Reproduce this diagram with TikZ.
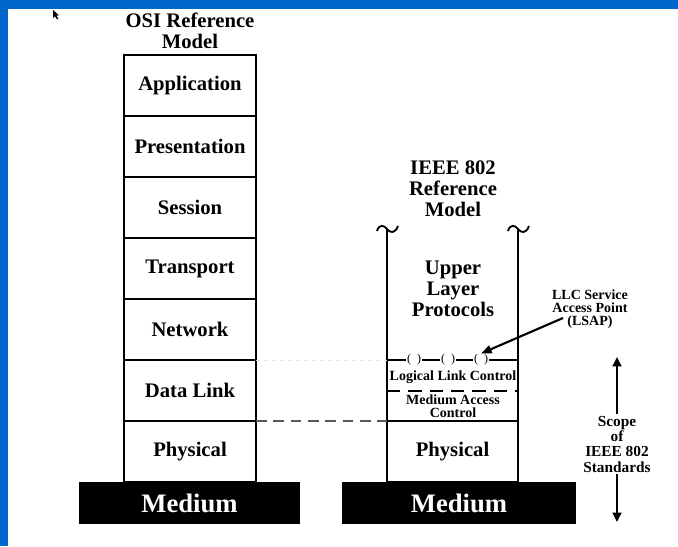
\documentclass[tikz,border=0pt]{standalone}
\usepackage{fontspec}
\setmainfont{Liberation Serif}
\usetikzlibrary{arrows.meta}
\definecolor{slideblue}{RGB}{0,102,204}

\begin{document}
\begin{tikzpicture}[x=0.75pt, y=-0.75pt]
\tikzstyle{every node} = [font=\bfseries]
\tikzstyle{layer} = [draw, line width=1.3pt, outer sep=0pt, minimum width=99pt, minimum height=45.75pt, inner sep=0pt, font=\fontsize{15.5}{15.75}\selectfont\bfseries]
\tikzstyle{medium} = [fill=black, text=white, minimum height=31.5pt, inner sep=0pt, font=\fontsize{20}{20}\selectfont\bfseries]
\tikzstyle{title} = [align=center, font=\fontsize{15.5}{15.75}\selectfont\bfseries]
\tikzstyle{small} = [align=center, inner sep=1pt, font=\fontsize{10.5}{9.75}\selectfont\bfseries]
\tikzstyle{scopetxt} = [align=center, inner sep=1pt, font=\fontsize{11.5}{11.5}\selectfont\bfseries]
\tikzstyle{sap} = [fill=white, inner sep=0.6pt, font=\fontsize{9}{9}\selectfont]
\tikzstyle{wall} = [line width=1.4pt]
\tikzstyle{arw} = [line width=1.6pt, -{Triangle[length=8pt,width=6pt]}]
\tikzstyle{sarw} = [line width=1.9pt, -{Triangle[length=7pt,width=6.5pt]}]

\useasboundingbox (0,0) rectangle (678,546);
\fill[white] (0,0) rectangle (678,546);
\fill[slideblue] (0,0) rectangle (678,9);
\fill[slideblue] (0,0) rectangle (8,546);
% mouse pointer
\fill (53,10) -- (53,18) -- (55,16.2) -- (57,19.5) -- (58.3,18.8) -- (56.4,15.6) -- (59,15.4) -- cycle;

% OSI stack
\node[title] (osi) at (190,31) {OSI Reference\\Model};
\node[layer] (app) at (190,85.5) {Application};
\node[layer] (pres) at (190,146.5) {Presentation};
\node[layer] (sess) at (190,207.5) {Session};
\node[layer] (trans) at (190,268.5) {Transport};
\node[layer] (net) at (190,329.5) {Network};
\node[layer] (dl) at (190,390.5) {Data Link};
\node[layer] (phy) at (190,451.5) {Physical};
\node[medium, minimum width=165.75pt] (med) at (189.5,503) {Medium};

% IEEE 802 stack
\node[title] (ieee) at (453,189) {IEEE 802\\Reference\\Model};
\node[layer, minimum width=98.25pt] (phy2) at (452.5,451.5) {Physical};
\node[medium, minimum width=175.5pt] (med2) at (459,503) {Medium};
\coordinate (wl) at (387,229);
\coordinate (wr) at (518,229);
\draw[wall] (wl) -- (phy2.north west);
\draw[wall] (wr) -- (phy2.north east);
\draw[wall] ([shift={(-10,2)}]wl) .. controls ([shift={(-8,-5)}]wl) and ([shift={(-3,-4)}]wl) .. (wl)
  .. controls ([shift={(3,4)}]wl) and ([shift={(8,5)}]wl) .. ([shift={(11,-3)}]wl);
\draw[wall] ([shift={(-10,2)}]wr) .. controls ([shift={(-8,-5)}]wr) and ([shift={(-3,-4)}]wr) .. (wr)
  .. controls ([shift={(3,4)}]wr) and ([shift={(8,5)}]wr) .. ([shift={(11,-3)}]wr);
\node[title] (ulp) at (453,289) {Upper\\Layer\\Protocols};

\coordinate (llcl) at (387,360);
\coordinate (llcr) at (518,360);
\draw[line width=1pt] (llcl) -- (llcr);
\node[sap] (sap1) at (414,360) {(\,\,\,)};
\node[sap] (sap2) at (448,360) {(\,\,\,)};
\node[sap] (sap3) at (481,360) {(\,\,\,)};
\node[small] (llc) at (453,377) {Logical Link Control};
\coordinate (macl) at (387,391);
\coordinate (macr) at (518,391);
\draw[line width=1.4pt, dash pattern=on 10pt off 6pt] (macl) -- (macr);
\node[small] (mac) at (453,406) {Medium Access\\Control};

% links between the two stacks
\draw[gray!20, dashed] (net.south east) -- (llcl);
\draw[gray!70!black, line width=1pt, dash pattern=on 8pt off 5pt] (dl.south east) -- (phy2.north west);

% LSAP label
\node[small] (lsap) at (590,309) {LLC Service\\Access Point\\(LSAP)};
\coordinate (lsapfrom) at (563,318);
\draw[arw] (lsapfrom) -- (sap3.north);

% scope of the standards
\node[scopetxt] (scope) at (617,444) {Scope\\of\\IEEE 802\\Standards};
\coordinate (scopetop) at (617,357);
\coordinate (scopebot) at (617,522);
\draw[sarw] (scope.north) -- (scopetop);
\draw[sarw] (scope.south) -- (scopebot);
\end{tikzpicture}
\end{document}
